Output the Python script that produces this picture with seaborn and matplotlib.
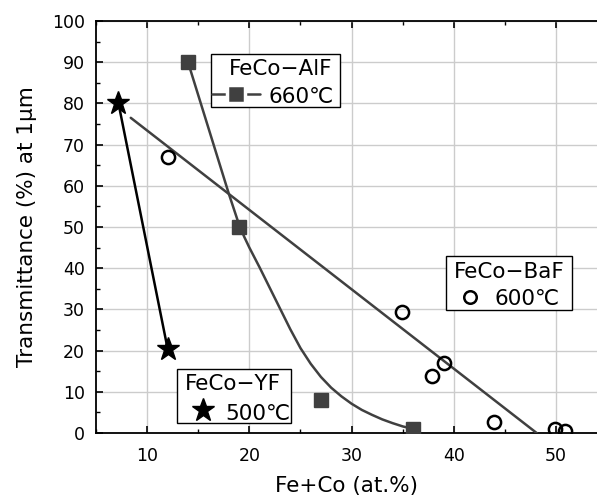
import matplotlib
matplotlib.use("Agg")
import matplotlib.pyplot as plt
from matplotlib.patches import Rectangle
from matplotlib.ticker import MultipleLocator
import numpy as np
import pandas as pd
import seaborn as sns

# ---- data ----
yf_x = [7.2, 12.0]
yf_y = [80.0, 20.5]

alf_x = [14.0, 19.0, 27.0, 36.0]
alf_y = [90.0, 50.0, 8.0, 1.0]

alf_curve_x = [14, 15, 16, 17, 18, 19, 19.5, 20, 21, 22, 23, 24, 25, 26, 27, 28, 29, 30, 31, 32, 33, 34, 35, 36]
alf_curve_y = [90, 82, 74, 66, 58, 50.5, 47.6, 45.0, 40.2, 35.2, 30.2, 25.2, 20.6, 16.8, 13.6, 11.0, 8.9, 7.1, 5.6, 4.4, 3.3, 2.4, 1.6, 1.0]

baf_x = [12.0, 34.9, 37.9, 39.0, 43.9, 49.9, 50.9]
baf_y = [67.0, 29.3, 13.8, 17.0, 2.7, 1.0, 0.4]

baf_fit_x = [8.4, 48.1]
baf_fit_y = [76.5, 0.0]

x_ticks = [10, 20, 30, 40, 50]
y_ticks = [0, 10, 20, 30, 40, 50, 60, 70, 80, 90, 100]

series_titles = ["FeCo−AlF", "FeCo−BaF", "FeCo−YF"]
series_temps = ["660℃", "600℃", "500℃"]

sns.set_theme(style="white")
plt.rcParams['font.family'] = ['DejaVu Sans', 'Noto Sans CJK JP']
plt.rcParams['axes.unicode_minus'] = True

W, H = 597, 499
fig = plt.figure(figsize=(W / 100, H / 100), dpi=100)
AX_L, AX_R, AX_T, AX_B = 96, 597, 21, 433
ax = fig.add_axes([AX_L / W, (H - AX_B) / H, (AX_R - AX_L) / W, (AX_B - AX_T) / H])

GRAY = "#404040"

# fit lines
sns.lineplot(x=baf_fit_x, y=baf_fit_y, ax=ax, color=GRAY, lw=1.8, sort=False, estimator=None, zorder=3)
sns.lineplot(x=alf_curve_x, y=alf_curve_y, ax=ax, color=GRAY, lw=1.8, sort=False, estimator=None, zorder=3)
sns.lineplot(x=yf_x, y=yf_y, ax=ax, color="black", lw=1.8, sort=False, estimator=None, zorder=3)

# markers
ax.plot(alf_x, alf_y, ls="none", marker="s", ms=10, color=GRAY, mec=GRAY, zorder=4)
ax.plot(baf_x, baf_y, ls="none", marker="o", ms=9.5, mfc="none", mec="black", mew=1.8, zorder=4)
ax.plot(yf_x, yf_y, ls="none", marker="*", ms=17, color="black", zorder=5)

ax.set_xlim(5, 54)
ax.set_ylim(0, 100)
ax.set_xticks(x_ticks)
ax.set_yticks(y_ticks)
ax.xaxis.set_minor_locator(MultipleLocator(5))
ax.yaxis.set_minor_locator(MultipleLocator(5))
ax.grid(True, which="major", color="#cccccc", lw=1.0, zorder=0)
ax.set_axisbelow(True)
ax.tick_params(which="both", direction="in", top=True, right=False, bottom=True, left=True,
               color="black", labelsize=12.5, labelcolor="black")
ax.tick_params(which="major", length=5, width=1.2)
ax.tick_params(which="minor", length=3, width=1.0)
ax.tick_params(axis="x", which="major", pad=10)
ax.tick_params(axis="y", which="major", pad=8)
for s in ["left", "bottom", "top"]:
    ax.spines[s].set_color("black")
    ax.spines[s].set_linewidth(1.3)
ax.spines["right"].set_visible(False)

ax.set_xlabel("Fe+Co (at.%)", fontsize=15.5, color="black", labelpad=8)
ax.set_ylabel("Transmittance (%) at 1μm", fontsize=15.5, color="black", labelpad=11)


# ---- boxed labels (layout in pixel positions of the figure) ----
def P(px, py):
    return ((px - AX_L) / (AX_R - AX_L), (AX_B - py) / (AX_B - AX_T))


def box(x0, y0, x1, y1):
    a = P(x0, y1)
    b = P(x1, y0)
    ax.add_patch(Rectangle(a, b[0] - a[0], b[1] - a[1], transform=ax.transAxes,
                           facecolor="white", edgecolor="black", lw=1.0, zorder=6, clip_on=False))


def txt(cx, by, s):
    ax.text(*P(cx, by), s, transform=ax.transAxes, ha="center", va="baseline",
            fontsize=15.5, color="black", zorder=7)


# AlF
box(211, 54, 340, 107)
txt(280.5, 75, series_titles[0])
ax.plot(*zip(P(212, 94.5), P(260, 94.5)), transform=ax.transAxes, color=GRAY, lw=1.8, zorder=7, clip_on=False)
ax.plot(*P(236, 94.5), transform=ax.transAxes, marker="s", ms=12.5, color=GRAY, mec="white", mew=2.5,
        zorder=8, clip_on=False)
txt(301, 103, series_temps[0])

# BaF
box(446, 256, 572, 310)
txt(509.5, 278, series_titles[1])
ax.plot(*P(469.5, 296.5), transform=ax.transAxes, marker="o", ms=9, mfc="none", mec="black", mew=1.8,
        zorder=8, clip_on=False)
txt(527, 305, series_temps[1])

# YF
box(177, 369, 291, 423)
txt(232.5, 390, series_titles[2])
ax.plot(*P(202.5, 410), transform=ax.transAxes, marker="*", ms=17, color="black", zorder=8, clip_on=False)
txt(258, 420, series_temps[2])

fig.savefig("out.png", dpi=100)
